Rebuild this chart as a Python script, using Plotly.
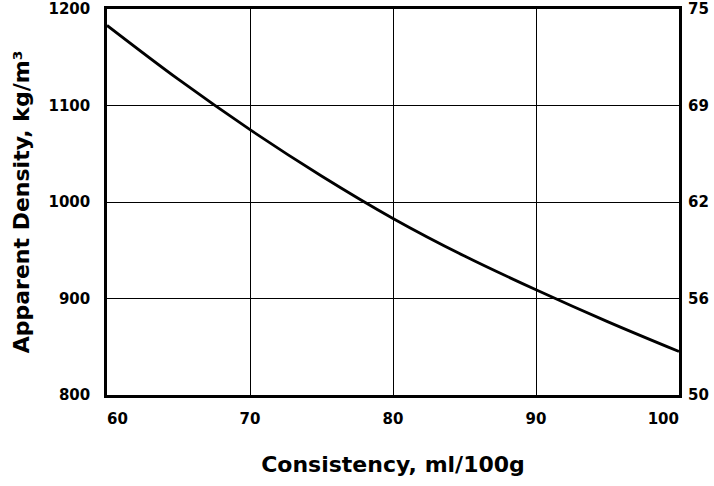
import plotly.graph_objects as go

# Consistency (ml/100g) vs apparent density (kg/m³)
consistency = [60, 65, 70, 75, 80, 85, 90, 95, 100]
density = [1183, 1127, 1075, 1027, 983, 944, 909, 876, 845]

x_ticks = [60, 70, 80, 90, 100]
x_tick_text = ["\u00a0\u00a0\u00a0\u00a060", "70", "80", "90", "100\u00a0\u00a0\u00a0\u00a0\u00a0\u00a0"]
y_ticks = [800, 900, 1000, 1100, 1200]
y_tick_text = ["800", "900", "1000", "1100", "1200"]
# Right-hand scale in lb/ft³
y2_tick_text = ["50", "56", "62", "69", "75"]

FONT = "DejaVu Sans"

fig = go.Figure()
fig.add_trace(go.Scatter(
    x=consistency, y=density, mode="lines",
    line=dict(color="black", width=2.8, shape="spline"),
    showlegend=False, hoverinfo="skip",
))
# invisible trace to activate the secondary axis
fig.add_trace(go.Scatter(
    x=[consistency[0]], y=[density[0]], yaxis="y2", mode="markers",
    marker=dict(opacity=0), showlegend=False, hoverinfo="skip",
))

fig.update_layout(
    width=714, height=486,
    margin=dict(l=107, r=35, t=9, b=91),
    plot_bgcolor="white", paper_bgcolor="white",
    font=dict(family=FONT, color="black"),
    xaxis=dict(
        range=[60, 100], tickvals=x_ticks, ticktext=x_tick_text,
        showgrid=True, gridcolor="black", gridwidth=1,
        showline=True, linecolor="black", linewidth=2.5, mirror=True,
        ticks="", tickfont=dict(size=15, family=FONT, weight="bold"),
        ticklabelstandoff=8, zeroline=False, automargin=False,
        title=dict(text="<b>Consistency, ml/100g</b>", font=dict(size=22, family=FONT), standoff=30),
    ),
    yaxis=dict(
        range=[800, 1200], tickvals=y_ticks, ticktext=y_tick_text,
        showgrid=True, gridcolor="black", gridwidth=1,
        showline=True, linecolor="black", linewidth=2.5, mirror=True,
        ticks="", tickfont=dict(size=15, family=FONT, weight="bold"),
        ticklabelstandoff=11, zeroline=False, automargin=False,
        title=dict(text="<b>Apparent Density, kg/m³</b>", font=dict(size=22, family=FONT), standoff=13),
    ),
    yaxis2=dict(
        range=[800, 1200], tickvals=y_ticks, ticktext=y2_tick_text,
        overlaying="y", side="right", showgrid=False, zeroline=False,
        ticks="", tickfont=dict(size=15, family=FONT, weight="bold"),
        ticklabelstandoff=8, automargin=False,
    ),
)

fig.write_html("out.html")
